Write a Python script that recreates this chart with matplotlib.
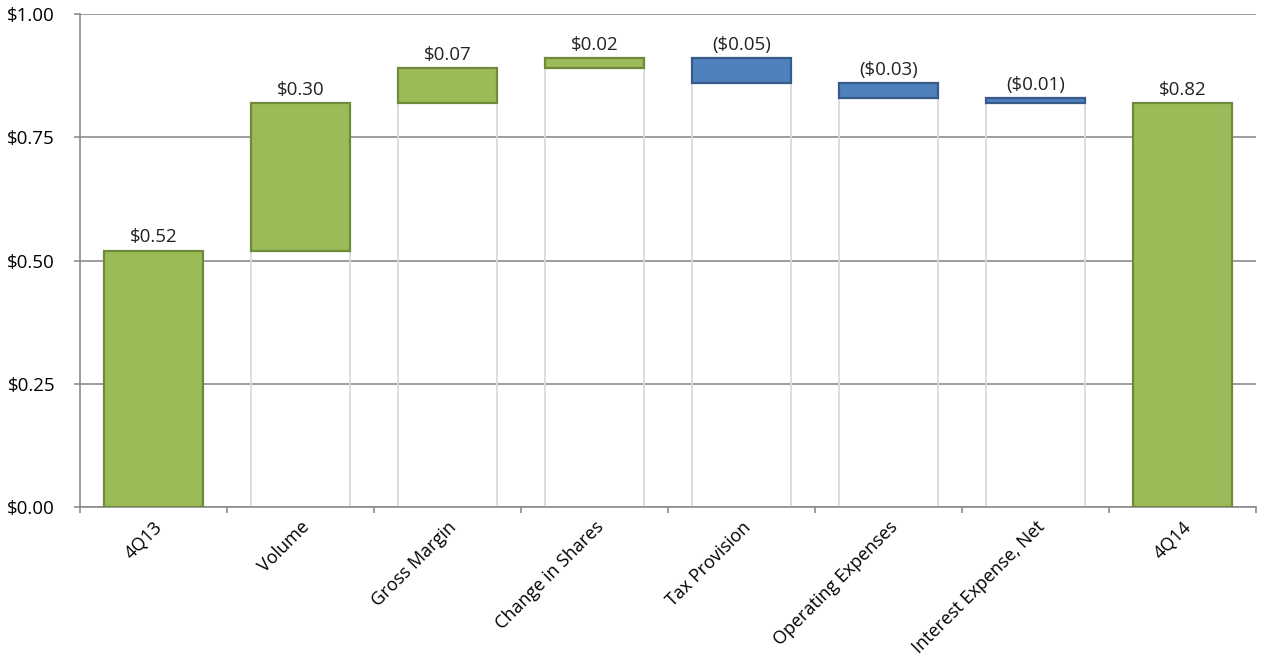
import matplotlib
matplotlib.use("Agg")
import matplotlib.pyplot as plt
from matplotlib.ticker import FixedLocator, NullFormatter

categories = ["4Q13", "Volume", "Gross Margin", "Change in Shares", "Tax Provision",
              "Operating Expenses", "Interest Expense, Net", "4Q14"]
changes = [0.52, 0.30, 0.07, 0.02, -0.05, -0.03, -0.01, 0.82]
is_total = [True, False, False, False, False, False, False, True]
labels = ["$0.52", "$0.30", "$0.07", "$0.02", "($0.05)", "($0.03)", "($0.01)", "$0.82"]
yticks = [0.0, 0.25, 0.5, 0.75, 1.0]
ytick_labels = ["$0.00", "$0.25", "$0.50", "$0.75", "$1.00"]

plt.rcParams['font.family'] = ['Open Sans', 'DejaVu Sans']

fig = plt.figure(figsize=(12.66, 6.6), dpi=100)
ax = fig.add_axes([0.0632, 0.2318, 0.9288, 0.747])

green, green_edge = "#9BBB59", "#6F8A3A"
blue, blue_edge = "#4F81BD", "#365B89"
width = 0.67

running = 0.0
for i, (c, tot) in enumerate(zip(changes, is_total)):
    if tot:
        bottom, height = 0.0, c
        top = c
        running = c
    else:
        start = running
        end = running + c
        bottom = min(start, end)
        height = abs(c)
        top = max(start, end)
        running = end
        # invisible base bar with faint outline
        ax.bar(i, bottom, width=width, bottom=0, fill=False,
               edgecolor="#DADADA", linewidth=1.3, zorder=2)
    col, ecol = (green, green_edge) if c >= 0 else (blue, blue_edge)
    ax.bar(i, height, width=width, bottom=bottom, color=col,
           edgecolor=ecol, linewidth=1.6, zorder=3)
    ax.annotate(labels[i], (i, top), xytext=(0, 3), textcoords="offset points",
                ha="center", va="bottom", fontsize=13.5, color="#222222", zorder=4)

ax.set_xlim(-0.5, len(categories) - 0.5)
ax.set_ylim(0, 1.0)
ax.set_yticks(yticks)
ax.set_yticklabels(ytick_labels, fontsize=13.5)
ax.yaxis.grid(True, color="#8C8C8C", linewidth=1.2, zorder=0)
ax.set_axisbelow(True)

ax.set_xticks(range(len(categories)))
ax.set_xticklabels(categories, rotation=45, ha="right", rotation_mode="anchor", fontsize=13)
ax.tick_params(axis="x", which="major", length=0, pad=8)
ax.xaxis.set_minor_locator(FixedLocator([k - 0.5 for k in range(len(categories) + 1)]))
ax.xaxis.set_minor_formatter(NullFormatter())
ax.tick_params(axis="x", which="minor", length=4, color="#8C8C8C", width=1.2)
ax.tick_params(axis="y", length=4, color="#8C8C8C", width=1.2, pad=14)

for s in ["top", "right"]:
    ax.spines[s].set_visible(False)
for s in ["left", "bottom"]:
    ax.spines[s].set_color("#8C8C8C")
    ax.spines[s].set_linewidth(1.2)

fig.savefig("out.png", dpi=100)
